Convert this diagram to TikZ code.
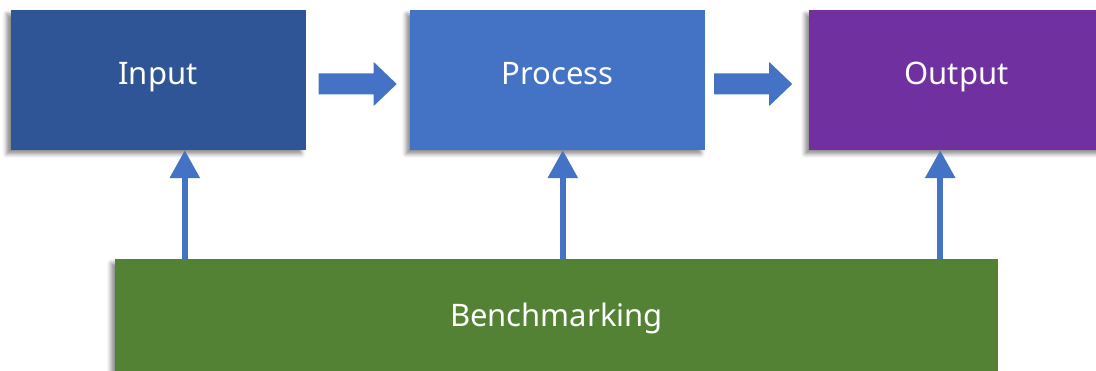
\documentclass[tikz,border=0pt]{standalone}
\usepackage{fontspec}
\setmainfont{Noto Sans}
\usetikzlibrary{arrows.meta,calc,shadows.blur}
\definecolor{inblue}{HTML}{2F5597}
\definecolor{prblue}{HTML}{4472C4}
\definecolor{outpurple}{HTML}{7030A0}
\definecolor{bmgreen}{HTML}{548235}
\begin{document}
\begin{tikzpicture}[x=1pt,y=-1pt,
  stagebox/.style={draw=none, minimum width=295pt, minimum height=140pt,
    text=white, font=\fontsize{31}{36}\selectfont,
    text height=22pt, text depth=12pt, inner sep=0pt,
    blur shadow={shadow xshift=-4pt, shadow yshift=-4pt, shadow blur radius=4pt, shadow opacity=45}},
  uparrow/.style={draw=prblue, line width=6pt, -{Triangle[length=28pt,width=29pt]}},
  blockarrow/.pic={\fill[prblue] (0,-10.5) -- (55,-10.5) -- (55,-22) -- (78,0)
      -- (55,22) -- (55,10.5) -- (0,10.5) -- cycle;}]
\useasboundingbox (0,0) rectangle (1096,371);
% the three stages
\node[stagebox, fill=inblue] (in) at (158,80) {Input};
\node[stagebox, fill=prblue] (pr) at (557.5,80) {Process};
\node[stagebox, fill=outpurple] (out) at (956.5,80) {Output};
% benchmarking bar
\node[stagebox, fill=bmgreen, minimum width=883pt, minimum height=118pt,
  text depth=4pt] (bm) at (556.5,318) {Benchmarking};
% block arrows between the stages
\pic at ($(in.east)+(13,4)$) {blockarrow};
\pic at ($(pr.east)+(9,4)$) {blockarrow};
% arrows from benchmarking up to each stage
\coordinate (b1) at ($(bm.north west)+(70,0)$);
\coordinate (b2) at ($(bm.north west)+(448,0)$);
\coordinate (b3) at ($(bm.north east)+(-58,0)$);
\draw[uparrow] (b1) -- (b1 |- in.south);
\draw[uparrow] (b2) -- (b2 |- pr.south);
\draw[uparrow] (b3) -- (b3 |- out.south);
\end{tikzpicture}
\end{document}
